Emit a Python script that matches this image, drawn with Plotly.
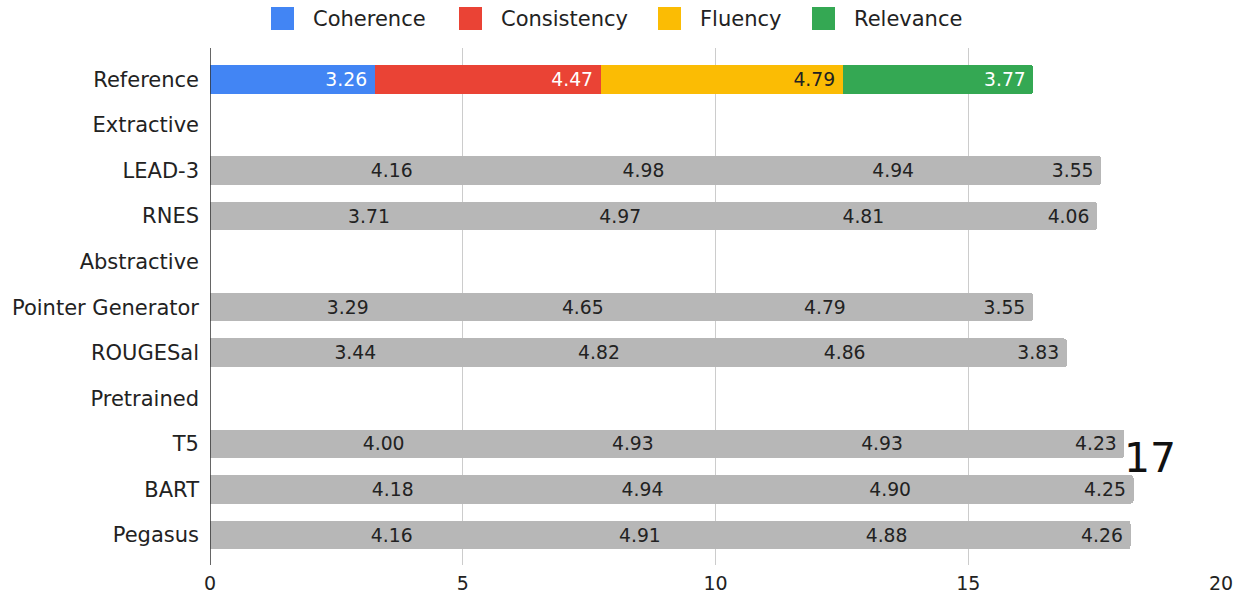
import plotly.graph_objects as go

# Summary-quality scores per system (stacked: coherence, consistency, fluency, relevance)
categories = ["Reference", "Extractive", "LEAD-3", "RNES", "Abstractive",
              "Pointer Generator", "ROUGESal", "Pretrained", "T5", "BART", "Pegasus"]
metrics = ["Coherence", "Consistency", "Fluency", "Relevance"]

coherence   = [3.26, None, 4.16, 3.71, None, 3.29, 3.44, None, 4.00, 4.18, 4.16]
consistency = [4.47, None, 4.98, 4.97, None, 4.65, 4.82, None, 4.93, 4.94, 4.91]
fluency     = [4.79, None, 4.94, 4.81, None, 4.79, 4.86, None, 4.93, 4.90, 4.88]
relevance   = [3.77, None, 3.55, 4.06, None, 3.55, 3.83, None, 4.23, 4.25, 4.26]

x_ticks = [0, 5, 10, 15, 20]
note_text = "17"

series = [coherence, consistency, fluency, relevance]
colors = ["#4285F4", "#EA4335", "#FBBC04", "#34A853"]
ref_text_colors = ["white", "white", "#222222", "white"]
GRAY = "#B7B7B7"
TEXT = "#222222"
FONT = "DejaVu Sans"
FS = 21       # category labels and legend
FS_VAL = 20   # values inside bars
FS_TICK = 19  # x tick labels
PAD = "\u2005"  # small trailing gap before the bar end

W, H = 1240, 594
M = dict(l=210, r=19, t=48, b=29)
plot_w = W - M["l"] - M["r"]
plot_h = H - M["t"] - M["b"]


def px_to_paper_x(px):
    return (px - M["l"]) / plot_w


def px_to_paper_y(py):
    return (H - M["b"] - py) / plot_h


def label(v):
    return f"{v:.2f}{PAD}" if v is not None else ""


fig = go.Figure()

# Highlighted reference row
for name, vals, col, tcol in zip(metrics, series, colors, ref_text_colors):
    fig.add_trace(go.Bar(
        y=[categories[0]], x=[vals[0]], orientation="h", name=name,
        marker=dict(color=col, line=dict(width=0)),
        text=[label(vals[0])], textposition="inside", insidetextanchor="end",
        textangle=0, textfont=dict(color=tcol, size=FS_VAL, family=FONT),
        showlegend=False))

# Remaining systems in gray
for name, vals in zip(metrics, series):
    xs = vals[1:]
    fig.add_trace(go.Bar(
        y=categories[1:], x=xs, orientation="h", name=name,
        marker=dict(color=GRAY, line=dict(width=0)),
        text=[label(v) for v in xs],
        textposition="inside", insidetextanchor="end", textangle=0,
        textfont=dict(color=TEXT, size=FS_VAL, family=FONT),
        showlegend=False))

fig.add_annotation(
    x=18.6, y=8.3, xref="x", yref="y", text=note_text, showarrow=False,
    font=dict(size=41, color="#111111", family=FONT))

# Legend row across the top: colour swatch followed by metric name
shapes = []
swatch_left = [271, 459, 658, 812]
sw, sy0, sy1 = 23, 7, 30
for name, col, x0 in zip(metrics, colors, swatch_left):
    shapes.append(dict(type="rect", xref="paper", yref="paper",
                       x0=px_to_paper_x(x0), x1=px_to_paper_x(x0 + sw),
                       y0=px_to_paper_y(sy1), y1=px_to_paper_y(sy0),
                       fillcolor=col, line=dict(width=0), layer="above"))
    fig.add_annotation(
        x=px_to_paper_x(x0 + sw + 17), y=px_to_paper_y((sy0 + sy1) / 2),
        xref="paper", yref="paper", xanchor="left", yanchor="middle",
        text=name, showarrow=False,
        font=dict(size=FS, color=TEXT, family=FONT))

# Vertical axis line at zero
shapes.append(dict(type="line", xref="x", yref="paper", x0=0, x1=0,
                   y0=0, y1=1, line=dict(color="#333333", width=1.5)))

fig.update_layout(
    width=W, height=H,
    barmode="stack", bargap=0.374, barcornerradius=3,
    paper_bgcolor="white", plot_bgcolor="white",
    margin=M,
    font=dict(family=FONT, size=FS, color=TEXT),
    showlegend=False,
    xaxis=dict(range=[0, 20], tickvals=x_ticks, showgrid=True,
               gridcolor="#CCCCCC", gridwidth=1, zeroline=False,
               showline=False, ticks="", ticklabelstandoff=5, automargin=False,
               tickfont=dict(size=FS_TICK, family=FONT, color=TEXT)),
    yaxis=dict(type="category", categoryorder="array", categoryarray=categories,
               range=[10.66, -0.69], showgrid=False,
               zeroline=False, showline=False, ticks="", ticklabelstandoff=10,
               automargin=False,
               tickfont=dict(size=FS, family=FONT, color=TEXT)),
    shapes=shapes,
)

fig.write_html("out.html")
